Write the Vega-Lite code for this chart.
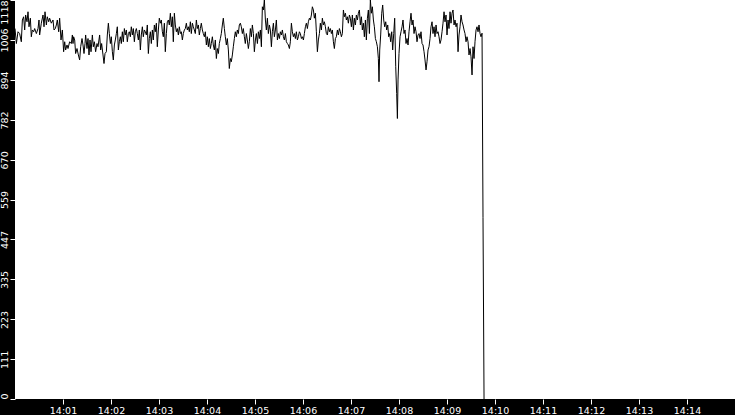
{
  "$schema": "https://vega.github.io/schema/vega-lite/v6.json",
  "width": 720,
  "height": 399,
  "autosize": {"type": "none"},
  "padding": {"left": 15, "top": 0, "right": 0, "bottom": 16},
  "background": "black",
  "config": {
    "view": {"stroke": null, "fill": "white"},
    "axis": {
      "domain": false,
      "grid": false,
      "tickColor": "white",
      "tickSize": 5,
      "labelColor": "white",
      "labelFont": "DejaVu Sans",
      "labelFontSize": 9.5,
      "labelOverlap": false,
      "title": null
    }
  },
  "data": {
    "values": [
      {"s":0,"v":1038},{"s":1.7,"v":996},{"s":3.75,"v":1029},{"s":5.8,"v":1024},{"s":7.9,"v":1001},{"s":9.2,"v":1062},{"s":10.8,"v":1071},{"s":12.1,"v":1034},{"s":13.3,"v":1076},{"s":15,"v":1057},
      {"s":16.25,"v":1085},{"s":17.5,"v":1043},{"s":19.2,"v":1067},{"s":20.4,"v":1015},{"s":21.7,"v":1034},{"s":23.3,"v":1029},{"s":24.6,"v":1038},{"s":26.7,"v":1024},{"s":28.75,"v":1038},{"s":30,"v":1062},
      {"s":30.8,"v":1020},{"s":32.9,"v":1053},{"s":35,"v":1076},{"s":36.25,"v":1043},{"s":37.5,"v":1085},{"s":39.2,"v":1048},{"s":40.4,"v":1071},{"s":42.1,"v":1057},{"s":43.3,"v":1067},{"s":45.4,"v":1053},
      {"s":47.5,"v":1062},{"s":48.75,"v":1034},{"s":50.4,"v":1038},{"s":51.7,"v":1048},{"s":52.9,"v":1062},{"s":54.6,"v":1029},{"s":55.8,"v":1067},{"s":57.5,"v":1006},{"s":59.2,"v":1034},{"s":60.8,"v":973},
      {"s":62.1,"v":1001},{"s":63.3,"v":978},{"s":65,"v":992},{"s":66.25,"v":982},{"s":68.3,"v":1001},{"s":70.4,"v":996},{"s":71.7,"v":1020},{"s":72.5,"v":996},{"s":73.3,"v":1015},{"s":74.6,"v":1006},
      {"s":75.8,"v":968},{"s":77.5,"v":982},{"s":79.2,"v":964},{"s":80.8,"v":950},{"s":82.1,"v":987},{"s":83.75,"v":1010},{"s":85,"v":992},{"s":86.25,"v":968},{"s":87.5,"v":996},{"s":88.3,"v":1020},
      {"s":90,"v":982},{"s":91.25,"v":1010},{"s":92.5,"v":964},{"s":93.75,"v":1006},{"s":95,"v":973},{"s":96.7,"v":1020},{"s":97.9,"v":987},{"s":99.2,"v":1001},{"s":100.8,"v":973},{"s":102.5,"v":996},
      {"s":103.75,"v":987},{"s":105.8,"v":1020},{"s":107.1,"v":978},{"s":108.3,"v":996},{"s":110,"v":964},{"s":111.25,"v":940},{"s":112.5,"v":968},{"s":114.2,"v":973},{"s":115.4,"v":1020},{"s":116.7,"v":1053},
      {"s":117.9,"v":1024},{"s":119.2,"v":996},{"s":120.4,"v":1015},{"s":121.7,"v":973},{"s":122.9,"v":950},{"s":124.2,"v":992},{"s":125.4,"v":1006},{"s":126.7,"v":1024},{"s":127.9,"v":1043},{"s":129.2,"v":978},
      {"s":130.4,"v":1001},{"s":131.7,"v":1015},{"s":132.9,"v":996},{"s":134.2,"v":1029},{"s":135.4,"v":1001},{"s":136.7,"v":1038},{"s":137.9,"v":1020},{"s":139.2,"v":1034},{"s":140.4,"v":1001},{"s":141.7,"v":1024},
      {"s":142.9,"v":1029},{"s":144.2,"v":1015},{"s":145.4,"v":1043},{"s":146.7,"v":1020},{"s":147.9,"v":1038},{"s":149.2,"v":1001},{"s":150.4,"v":1029},{"s":151.7,"v":1038},{"s":152.9,"v":1024},{"s":154.2,"v":1006},
      {"s":155.4,"v":1034},{"s":156.7,"v":978},{"s":157.9,"v":1020},{"s":159.2,"v":1043},{"s":160.4,"v":1015},{"s":161.7,"v":1034},{"s":162.9,"v":1029},{"s":164.2,"v":1020},{"s":165.4,"v":1048},{"s":166.7,"v":968},
      {"s":167.9,"v":1010},{"s":169.2,"v":1029},{"s":170.4,"v":996},{"s":171.7,"v":1034},{"s":172.9,"v":1006},{"s":174.2,"v":1048},{"s":175.4,"v":1029},{"s":176.7,"v":1053},{"s":177.9,"v":987},{"s":179.2,"v":1034},
      {"s":180.4,"v":1067},{"s":181.7,"v":1053},{"s":182.9,"v":1062},{"s":184.2,"v":1029},{"s":185.4,"v":1015},{"s":186.7,"v":1053},{"s":187.9,"v":973},{"s":189.2,"v":1024},{"s":190.4,"v":1057},{"s":191.7,"v":1062},
      {"s":192.9,"v":1048},{"s":194.2,"v":1081},{"s":195.4,"v":1043},{"s":196.7,"v":1071},{"s":197.9,"v":1001},{"s":199.2,"v":1081},{"s":200.4,"v":1048},{"s":201.7,"v":1029},{"s":202.9,"v":1038},{"s":204.2,"v":1020},
      {"s":205.4,"v":1043},{"s":206.7,"v":1024},{"s":207.9,"v":1029},{"s":209.2,"v":1006},{"s":210.4,"v":1024},{"s":211.7,"v":1034},{"s":212.9,"v":1038},{"s":214.2,"v":1053},{"s":215.4,"v":1034},{"s":216.7,"v":1043},
      {"s":217.9,"v":1029},{"s":219.2,"v":1057},{"s":220.4,"v":1024},{"s":221.7,"v":1053},{"s":222.9,"v":1043},{"s":224.2,"v":1034},{"s":225.4,"v":1024},{"s":226.7,"v":1062},{"s":227.9,"v":1038},{"s":229.2,"v":1048},
      {"s":230.4,"v":1020},{"s":231.7,"v":1038},{"s":232.9,"v":1053},{"s":234.2,"v":1034},{"s":235.4,"v":1024},{"s":236.7,"v":1015},{"s":237.9,"v":1029},{"s":239.2,"v":992},{"s":240.4,"v":1015},{"s":241.7,"v":987},
      {"s":242.9,"v":1010},{"s":244.2,"v":982},{"s":245.4,"v":996},{"s":246.7,"v":1015},{"s":247.9,"v":992},{"s":249.2,"v":978},{"s":250.4,"v":1006},{"s":251.7,"v":954},{"s":252.9,"v":982},{"s":254.2,"v":968},
      {"s":255.4,"v":996},{"s":256.7,"v":1010},{"s":257.9,"v":1024},{"s":259.2,"v":1048},{"s":260.4,"v":1067},{"s":261.7,"v":1038},{"s":262.9,"v":1015},{"s":264.2,"v":992},{"s":265.4,"v":1010},{"s":266.7,"v":978},
      {"s":267.9,"v":926},{"s":269.2,"v":954},{"s":270.4,"v":945},{"s":271.7,"v":964},{"s":272.9,"v":987},{"s":274.2,"v":1010},{"s":275.4,"v":1029},{"s":276.7,"v":1015},{"s":277.9,"v":1034},{"s":279.2,"v":1024},
      {"s":280.4,"v":1048},{"s":281.7,"v":1053},{"s":282.9,"v":1043},{"s":284.2,"v":1024},{"s":285.4,"v":1038},{"s":286.7,"v":1015},{"s":287.9,"v":996},{"s":289.2,"v":1024},{"s":290.4,"v":1006},{"s":291.7,"v":982},
      {"s":292.9,"v":1001},{"s":294.2,"v":1038},{"s":295.5,"v":1015},{"s":296.7,"v":1048},{"s":298,"v":1024},{"s":299.2,"v":973},{"s":300.5,"v":1006},{"s":301.7,"v":1024},{"s":303,"v":996},{"s":304.2,"v":1029},
      {"s":305.5,"v":1010},{"s":306.7,"v":1034},{"s":308,"v":987},{"s":309.2,"v":1099},{"s":310.5,"v":1090},{"s":311.7,"v":1118},{"s":313,"v":1062},{"s":314.2,"v":1034},{"s":315.5,"v":1067},{"s":316.7,"v":1024},
      {"s":318,"v":1048},{"s":319.2,"v":1034},{"s":320.5,"v":987},{"s":321.7,"v":1029},{"s":323,"v":1053},{"s":324.2,"v":1015},{"s":325.5,"v":1034},{"s":326.7,"v":1062},{"s":328,"v":1006},{"s":329.2,"v":1024},
      {"s":330.5,"v":1010},{"s":331.7,"v":1029},{"s":333,"v":1020},{"s":334.2,"v":1034},{"s":335.5,"v":1015},{"s":336.7,"v":1006},{"s":338,"v":1024},{"s":339.2,"v":1001},{"s":340.5,"v":996},{"s":341.7,"v":992},
      {"s":343,"v":982},{"s":344.2,"v":1001},{"s":345.5,"v":1053},{"s":346.7,"v":1029},{"s":348,"v":1015},{"s":349.2,"v":1024},{"s":350.5,"v":1010},{"s":351.7,"v":1029},{"s":353,"v":1006},{"s":354.2,"v":1015},
      {"s":355.5,"v":1029},{"s":356.7,"v":1024},{"s":358,"v":1010},{"s":359.2,"v":1015},{"s":360.5,"v":1006},{"s":361.7,"v":1024},{"s":363,"v":1043},{"s":364.2,"v":1053},{"s":365.5,"v":1038},{"s":366.7,"v":1057},
      {"s":368,"v":1067},{"s":369.2,"v":1062},{"s":370.5,"v":1076},{"s":371.7,"v":1099},{"s":373,"v":1090},{"s":374.2,"v":1067},{"s":375.5,"v":1081},{"s":376.7,"v":1029},{"s":378,"v":973},{"s":379.2,"v":1006},
      {"s":380.5,"v":1024},{"s":381.7,"v":1053},{"s":383,"v":1034},{"s":384.2,"v":1067},{"s":385.5,"v":1048},{"s":386.7,"v":1057},{"s":388,"v":1043},{"s":389.2,"v":1024},{"s":390.5,"v":1020},{"s":391.7,"v":1043},
      {"s":393,"v":1029},{"s":394.2,"v":1038},{"s":395.5,"v":1024},{"s":396.7,"v":1034},{"s":398,"v":1001},{"s":399.2,"v":982},{"s":400.5,"v":1010},{"s":401.7,"v":1015},{"s":403,"v":1034},{"s":404.2,"v":1020},
      {"s":405.5,"v":1038},{"s":406.7,"v":1029},{"s":408,"v":1015},{"s":409.2,"v":1024},{"s":410.5,"v":1090},{"s":411.7,"v":1071},{"s":413,"v":1081},{"s":414.2,"v":1062},{"s":415.5,"v":1071},{"s":416.7,"v":1053},
      {"s":418,"v":1076},{"s":419.2,"v":1067},{"s":420.5,"v":1043},{"s":421.7,"v":1076},{"s":423,"v":1034},{"s":424.2,"v":1067},{"s":425.5,"v":1048},{"s":426.7,"v":1076},{"s":428,"v":1062},{"s":429.2,"v":1081},
      {"s":430.5,"v":1090},{"s":431.7,"v":1048},{"s":433,"v":1071},{"s":434.2,"v":1034},{"s":435.5,"v":1053},{"s":436.7,"v":1015},{"s":438,"v":1062},{"s":439.2,"v":1006},{"s":440.5,"v":1067},{"s":441.7,"v":1090},
      {"s":443,"v":1024},{"s":444.2,"v":1118},{"s":445.5,"v":1081},{"s":446.7,"v":1099},{"s":448,"v":1062},{"s":449.2,"v":1043},{"s":450.5,"v":1010},{"s":451.7,"v":1001},{"s":453,"v":987},{"s":454.2,"v":954},
      {"s":455,"v":889},{"s":455.9,"v":978},{"s":457.1,"v":1020},{"s":458.4,"v":1081},{"s":459.6,"v":1104},{"s":460.9,"v":1062},{"s":462.1,"v":1043},{"s":463.4,"v":1057},{"s":464.6,"v":1034},{"s":465.9,"v":1048},
      {"s":467.1,"v":1015},{"s":468.4,"v":1024},{"s":469.6,"v":1001},{"s":470.9,"v":1029},{"s":472.1,"v":978},{"s":473.4,"v":1024},{"s":474.6,"v":1067},{"s":475.9,"v":931},{"s":477.1,"v":856},{"s":478,"v":786},
      {"s":478.8,"v":894},{"s":480,"v":968},{"s":481.3,"v":1015},{"s":482.5,"v":1029},{"s":483.8,"v":1043},{"s":485,"v":1062},{"s":486.3,"v":1024},{"s":487.5,"v":1034},{"s":488.8,"v":996},{"s":490,"v":1010},
      {"s":491.3,"v":992},{"s":492.5,"v":1029},{"s":493.8,"v":1057},{"s":495,"v":1081},{"s":496.3,"v":1048},{"s":497.5,"v":1062},{"s":498.8,"v":1024},{"s":500,"v":1043},{"s":501.3,"v":1029},{"s":502.5,"v":1001},
      {"s":503.8,"v":1020},{"s":505,"v":1024},{"s":506.3,"v":1010},{"s":507.5,"v":1029},{"s":508.8,"v":996},{"s":510,"v":992},{"s":511.3,"v":973},{"s":512.5,"v":950},{"s":513.8,"v":922},{"s":515,"v":945},
      {"s":516.3,"v":978},{"s":517.5,"v":987},{"s":518.8,"v":1010},{"s":520,"v":1043},{"s":521.3,"v":1057},{"s":522.5,"v":1024},{"s":523.8,"v":1043},{"s":525,"v":1015},{"s":526.3,"v":1048},{"s":527.5,"v":1024},
      {"s":528.8,"v":1029},{"s":530,"v":1015},{"s":531.3,"v":996},{"s":532.5,"v":1006},{"s":533.8,"v":1029},{"s":535,"v":1053},{"s":536.3,"v":1085},{"s":537.5,"v":1057},{"s":538.8,"v":1076},{"s":540,"v":1020},
      {"s":541.3,"v":1062},{"s":542.5,"v":1038},{"s":543.8,"v":1085},{"s":545,"v":1053},{"s":546.3,"v":1081},{"s":547.5,"v":1090},{"s":548.8,"v":1048},{"s":550,"v":1062},{"s":551.3,"v":1043},{"s":552.5,"v":1053},
      {"s":553.8,"v":973},{"s":555,"v":1020},{"s":556.3,"v":1043},{"s":557.5,"v":1076},{"s":558.8,"v":1057},{"s":560,"v":1048},{"s":561.3,"v":1034},{"s":562.5,"v":1024},{"s":563.8,"v":1001},{"s":565,"v":1015},
      {"s":566.3,"v":1001},{"s":567.5,"v":964},{"s":568.8,"v":982},{"s":570,"v":959},{"s":571.3,"v":908},{"s":572.5,"v":987},{"s":573.8,"v":954},{"s":575,"v":1001},{"s":576.3,"v":1034},{"s":577.5,"v":1043},
      {"s":578.8,"v":1029},{"s":580,"v":1048},{"s":581.3,"v":1024},{"s":582.5,"v":1015},{"s":583.8,"v":1025},{"s":585,"v":509},{"s":586.3,"v":0}
    ]
  },
  "mark": {"type": "line", "color": "black", "strokeWidth": 1, "clip": true},
  "encoding": {
    "x": {
      "field": "s",
      "type": "quantitative",
      "scale": {"domain": [0, 900], "nice": false, "zero": false},
      "axis": {
        "values": [60, 120, 180, 240, 300, 360, 420, 480, 540, 600, 660, 720, 780, 840],
        "labelExpr": "'14:' + (datum.value < 600 ? '0' : '') + (datum.value / 60)",
        "labelPadding": 1
      }
    },
    "y": {
      "field": "v",
      "type": "quantitative",
      "scale": {"domain": [0, 1118], "nice": false},
      "axis": {
        "values": [0, 111, 223, 335, 447, 559, 670, 782, 894, 1006, 1118],
        "format": "d",
        "labelAngle": -90,
        "labelAlign": {
          "condition": [
            {"test": "datum.value >= 1118", "value": "right"},
            {"test": "datum.value <= 0", "value": "left"}
          ],
          "value": "center"
        },
        "labelPadding": 1
      }
    }
  }
}
